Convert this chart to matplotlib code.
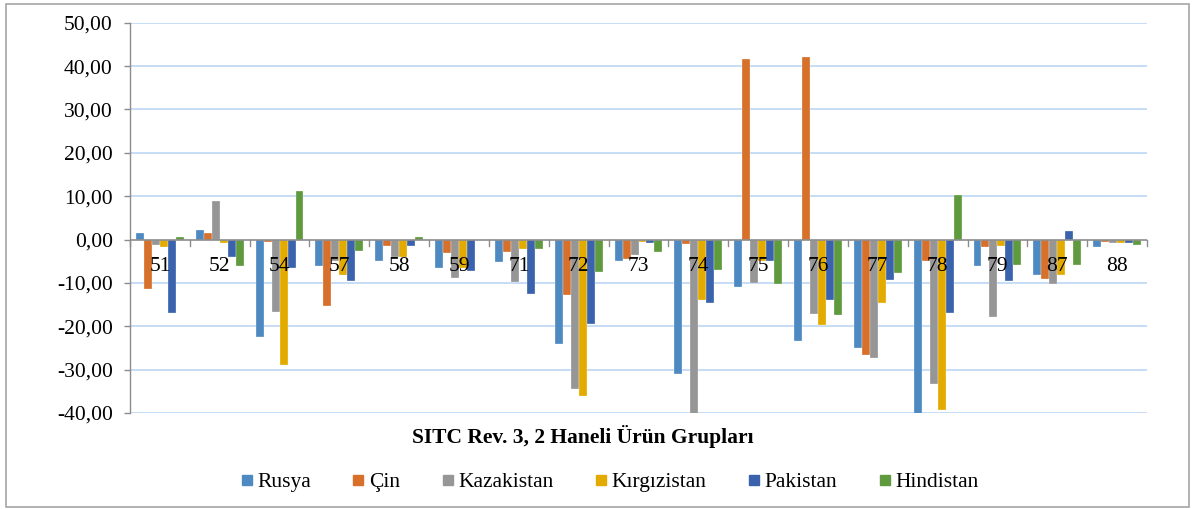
import matplotlib
matplotlib.use("Agg")
import matplotlib.pyplot as plt
from matplotlib.lines import Line2D
from matplotlib.patches import Rectangle
from matplotlib.ticker import FuncFormatter, MultipleLocator
import numpy as np

categories = ['51', '52', '54', '57', '58', '59', '71', '72', '73', '74',
              '75', '76', '77', '78', '79', '87', '88']
series_names = ['Rusya', 'Çin', 'Kazakistan', 'Kırgızistan', 'Pakistan', 'Hindistan']

rusya = [1.6, 2.2, -22.5, -6.1, -4.9, -6.5, -5.2, -24.0, -5.0, -30.9,
         -11.0, -23.3, -25.0, -41.0, -6.2, -8.2, -1.8]
cin = [-11.5, 1.5, -0.6, -15.4, -1.6, -3.2, -2.8, -12.7, -4.6, -1.1,
       41.6, 42.0, -26.7, -4.9, -1.8, -9.1, -0.5]
kazakistan = [-1.3, 8.9, -16.7, -5.0, -4.0, -8.8, -9.9, -34.4, -3.5, -41.0,
              -10.0, -17.2, -27.3, -33.2, -17.9, -10.2, -0.8]
kirgizistan = [-1.7, -0.9, -29.0, -8.2, -4.0, -6.5, -2.2, -36.0, -0.5, -14.0,
               -5.0, -19.8, -14.7, -39.4, -1.5, -8.2, -0.8]
pakistan = [-16.9, -4.1, -6.5, -9.5, -1.5, -7.3, -12.5, -19.4, -0.8, -14.7,
            -4.9, -14.0, -9.4, -17.0, -9.5, 1.9, -0.8]
hindistan = [0.5, -6.2, 11.2, -2.6, 0.5, -0.2, -2.1, -7.5, -2.8, -7.1,
             -10.2, -17.4, -7.8, 10.2, -5.8, -5.9, -1.2]

series = [rusya, cin, kazakistan, kirgizistan, pakistan, hindistan]
colors = ['#4E8AC1', '#D6702B', '#969696', '#E3AB00', '#3B63AD', '#5F9A3E']

axis_title = 'SITC Rev. 3, 2 Haneli Ürün Grupları'

plt.rcParams['font.family'] = ['Liberation Serif', 'DejaVu Serif']
FS = 15.5

W, H = 1194, 509
fig = plt.figure(figsize=(W / 100, H / 100), dpi=100)
ax = fig.add_axes([130 / W, 1 - 413 / H, (1147 - 130) / W, (413 - 22.7) / H])

x = np.arange(len(categories))
bw = 8 / 60
for i, (vals, c) in enumerate(zip(series, colors)):
    ax.bar(x + (i - 2.5) * bw, vals, width=bw, color=c, zorder=2,
           edgecolor='white', linewidth=0.2)

ax.set_xlim(-0.5, len(categories) - 0.5)
ax.set_ylim(-40, 50)

# gridlines
for yv in np.arange(-40, 51, 10):
    if yv != 0:
        ax.axhline(yv, color='#C2D9F4', lw=1.3, zorder=0)

# zero line and category boundary ticks
ax.axhline(0, color='#8C8C8C', lw=1.2, zorder=3)
for b in np.arange(-0.5, len(categories) - 0.4, 1.0):
    ax.plot([b, b], [0, -1.4], color='#8C8C8C', lw=1.0, zorder=3, clip_on=False)

# category labels on top of bars
for xi, lab in zip(x, categories):
    ax.annotate(lab, xy=(xi, 0), xytext=(0, -12.5), textcoords='offset points',
                ha='center', va='top', fontsize=FS, color='black', zorder=5)

ax.set_xticks([])
for s in ['top', 'right', 'bottom']:
    ax.spines[s].set_visible(False)
ax.spines['left'].set_color('#8C8C8C')
ax.spines['left'].set_linewidth(1.0)
ax.yaxis.set_major_locator(MultipleLocator(10))
ax.yaxis.set_major_formatter(FuncFormatter(lambda v, p: f'{v:.2f}'.replace('.', ',')))
ax.tick_params(axis='y', direction='out', length=4.5, width=1.0, color='#8C8C8C',
               labelsize=FS, pad=8)

fig.text(583 / W, 1 - 437 / H, axis_title, ha='center', va='center',
         fontsize=FS, fontweight='bold')

handles = [Line2D([], [], marker='s', ls='', color=c, markersize=7.3) for c in colors]
fig.legend(handles, series_names, loc='center', bbox_to_anchor=(610 / W, 1 - 482 / H),
           ncol=6, frameon=False, fontsize=FS, handlelength=0.5, handletextpad=0.25,
           columnspacing=1.95, borderpad=0)

fig.add_artist(Rectangle((5.5 / W, 2.5 / H), (1189 - 5.5) / W, (505 - 2.5) / H,
                         transform=fig.transFigure, fill=False,
                         edgecolor='#A6A6A6', lw=1.2))

fig.savefig('out.png', dpi=100)
